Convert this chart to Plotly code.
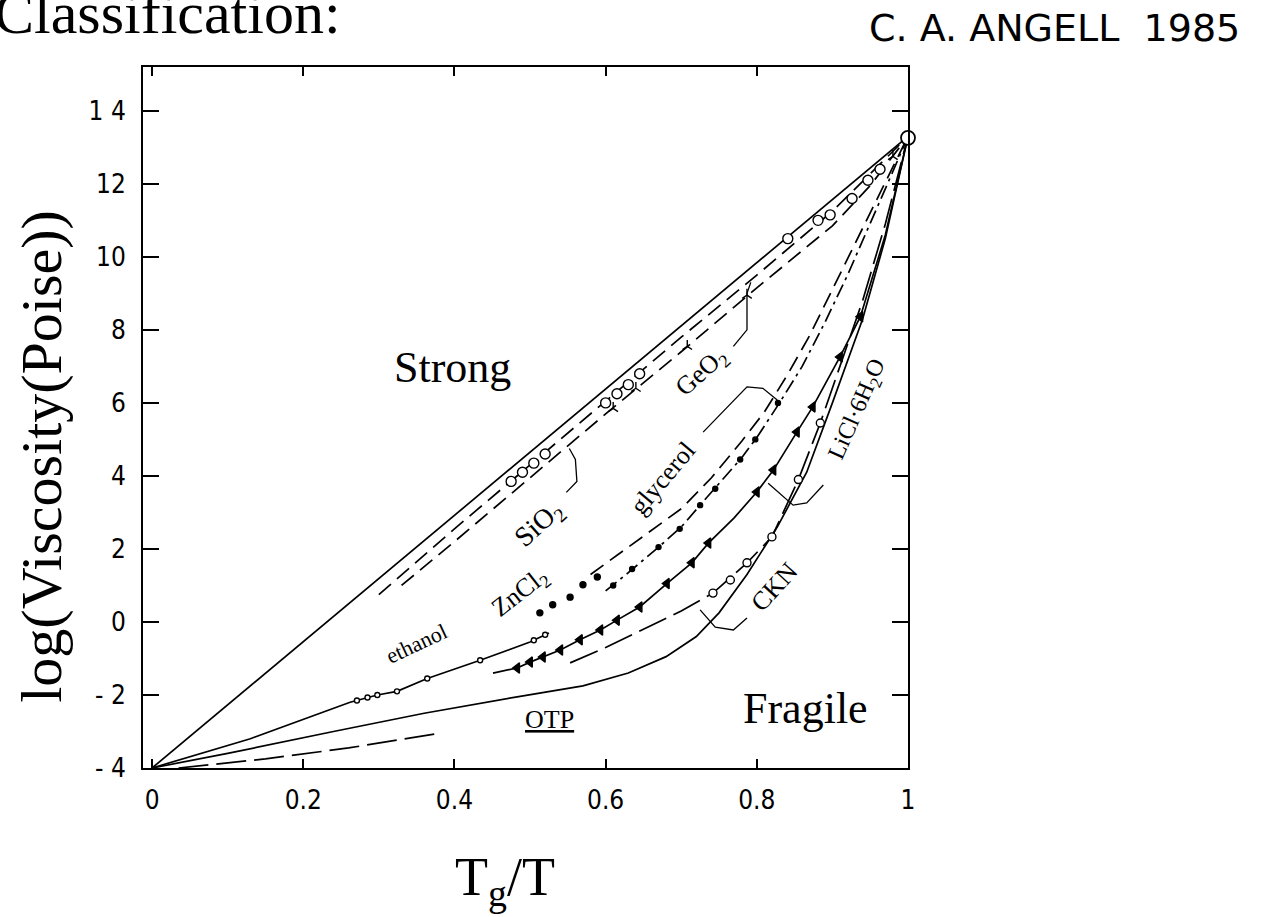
import plotly.graph_objects as go

# ---------------- data ----------------
strong_x = [0.0, 1.0]
strong_y = [-4.0, 13.3]

sio2_x = [0.30, 0.40, 0.50, 0.60, 0.70, 0.80, 0.90, 1.00]
sio2_y = [0.75, 2.55, 4.30, 6.05, 7.80, 9.50, 11.25, 13.3]
sio2_pts_x = [0.475, 0.49, 0.505, 0.52, 0.60, 0.615, 0.63, 0.645, 0.841, 0.881, 0.897, 0.926, 0.947, 0.963]
sio2_pts_y = [3.85, 4.1, 4.35, 4.6, 6.0, 6.25, 6.5, 6.8, 10.5, 11.0, 11.15, 11.6, 12.1, 12.4]

geo2_x = [0.33, 0.40, 0.50, 0.60, 0.70, 0.80, 0.90, 0.95, 1.00]
geo2_y = [1.00, 2.20, 3.95, 5.70, 7.40, 9.15, 10.85, 11.95, 13.3]
geo2_pts_x = [0.61, 0.64, 0.708, 0.787, 0.98]
geo2_pts_y = [5.85, 6.4, 7.55, 8.95, 12.75]

zncl2_dot_x = [0.513, 0.53, 0.553, 0.57, 0.589]
zncl2_dot_y = [0.25, 0.47, 0.68, 1.02, 1.23]
zncl2_x = [0.58, 0.62, 0.66, 0.70, 0.74, 0.78, 0.81, 0.84, 0.87, 0.90, 0.93, 0.96, 1.0]
zncl2_y = [1.3, 1.9, 2.5, 3.1, 3.95, 4.95, 5.75, 6.75, 7.85, 9.1, 10.35, 11.6, 13.3]

glyc_x = [0.60, 0.63, 0.67, 0.70, 0.725, 0.75, 0.78, 0.80, 0.83, 0.86, 0.89, 0.92, 0.95, 0.975, 1.0]
glyc_y = [0.85, 1.35, 2.05, 2.6, 3.2, 3.8, 4.5, 5.05, 6.0, 7.0, 8.2, 9.5, 10.9, 12.1, 13.3]
glyc_pts_x = [0.61, 0.635, 0.67, 0.698, 0.725, 0.745, 0.778, 0.798, 0.828]
glyc_pts_y = [1.0, 1.45, 2.05, 2.55, 3.2, 3.65, 4.45, 5.0, 6.0]

licl_x = [0.451, 0.483, 0.50, 0.517, 0.54, 0.566, 0.593, 0.615, 0.645, 0.681, 0.714, 0.736, 0.77,
          0.80, 0.822, 0.853, 0.874, 0.91, 0.937, 0.97, 1.0]
licl_y = [-1.4, -1.26, -1.1, -0.96, -0.77, -0.49, -0.22, 0.05, 0.41, 1.05, 1.62, 2.16, 2.85,
          3.56, 4.16, 5.2, 5.89, 7.26, 8.36, 10.6, 13.3]
licl_pts_x = [0.483, 0.50, 0.517, 0.54, 0.566, 0.593, 0.615, 0.645, 0.681, 0.714, 0.736,
              0.80, 0.822, 0.853, 0.874, 0.91, 0.937]
licl_pts_y = [-1.26, -1.1, -0.96, -0.77, -0.49, -0.22, 0.05, 0.41, 1.05, 1.62, 2.16,
              3.56, 4.16, 5.2, 5.89, 7.26, 8.36]

ckn_x = [0.553, 0.60, 0.65, 0.70, 0.742, 0.787, 0.82, 0.855, 0.884, 0.91, 0.94, 0.97, 1.0]
ckn_y = [-1.12, -0.7, -0.2, 0.3, 0.79, 1.62, 2.33, 3.9, 5.45, 7.0, 8.8, 10.9, 13.3]
ckn_pts_x = [0.742, 0.765, 0.787, 0.82, 0.855, 0.884]
ckn_pts_y = [0.79, 1.15, 1.62, 2.33, 3.9, 5.45]

otp_x = [0.0, 0.10, 0.24, 0.36, 0.483, 0.57, 0.63, 0.68, 0.72, 0.75, 0.787, 0.827, 0.866, 0.90, 0.94, 0.97, 1.0]
otp_y = [-4.0, -3.6, -3.0, -2.5, -2.05, -1.75, -1.4, -0.95, -0.4, 0.25, 1.3, 2.6, 4.1, 6.0, 8.3, 10.5, 13.3]
otp_low_x = [0.035, 0.15, 0.26, 0.38]
otp_low_y = [-4.0, -3.75, -3.45, -3.05]

eth_x = [0.0, 0.13, 0.262, 0.298, 0.324, 0.364, 0.434, 0.50, 0.525]
eth_y = [-4.0, -3.2, -2.2, -2.0, -1.9, -1.55, -1.05, -0.55, -0.3]
eth_pts_x = [0.271, 0.285, 0.298, 0.324, 0.364, 0.434, 0.505, 0.52]
eth_pts_y = [-2.15, -2.07, -2.0, -1.9, -1.55, -1.05, -0.5, -0.35]

tg_x = [1.0]
tg_y = [13.26]

# label leader brackets
br_sio2_x = [0.548, 0.562, 0.560, 0.552]
br_sio2_y = [3.55, 3.85, 4.45, 4.75]
br_geo2_x = [0.769, 0.787, 0.787, 0.792]
br_geo2_y = [7.55, 8.0, 9.0, 9.3]
br_glyc_x = [0.729, 0.787, 0.808, 0.827]
br_glyc_y = [5.2, 6.44, 6.4, 6.08]
br_licl_x = [0.888, 0.866, 0.848, 0.815]
br_licl_y = [3.75, 3.26, 3.2, 3.8]
br_ckn_x = [0.787, 0.769, 0.745, 0.725]
br_ckn_y = [0.11, -0.22, -0.14, 0.33]

y_ticks = [-4, -2, 0, 2, 4, 6, 8, 10, 12, 14]
y_tick_text = ["- 4", "- 2", "0", "2", "4", "6", "8", "10", "12", "1 4"]
x_ticks = [0, 0.2, 0.4, 0.6, 0.8, 1]
x_tick_text = ["0", "0.2", "0.4", "0.6", "0.8", "1"]

# ---------------- figure ----------------
K = "black"
SERIF = "Liberation Serif, Times New Roman, serif"
NARROW = "Liberation Sans Narrow, DejaVu Sans Condensed, Arial Narrow, sans-serif"

fig = go.Figure()


def line(x, y, dash="solid", w=1.7):
    fig.add_trace(go.Scatter(x=x, y=y, mode="lines", line=dict(color=K, width=w, dash=dash),
                             hoverinfo="skip", showlegend=False))


def pts(x, y, symbol, size, filled=False, lw=1.4):
    fig.add_trace(go.Scatter(x=x, y=y, mode="markers",
                             marker=dict(symbol=symbol, size=size,
                                         color=K if filled else "white",
                                         line=dict(color=K, width=lw)),
                             hoverinfo="skip", showlegend=False, cliponaxis=False))


line(strong_x, strong_y)
line(sio2_x, sio2_y, dash="16px,8px")
line(geo2_x, geo2_y, dash="16px,8px")
line(zncl2_x, zncl2_y, dash="16px,8px")
line(glyc_x, glyc_y, dash="14px,5px,3px,5px")
line(licl_x, licl_y)
line(ckn_x, ckn_y, dash="30px,8px")
line(otp_x, otp_y)
line(otp_low_x, otp_low_y, dash="30px,8px")
line(eth_x, eth_y)

for bx, by in [(br_sio2_x, br_sio2_y), (br_geo2_x, br_geo2_y), (br_glyc_x, br_glyc_y),
               (br_licl_x, br_licl_y), (br_ckn_x, br_ckn_y)]:
    line(bx, by, w=1.3)

pts(sio2_pts_x, sio2_pts_y, "circle", 10)
pts(geo2_pts_x, geo2_pts_y, "y-up", 8, lw=1.4)
pts(zncl2_dot_x, zncl2_dot_y, "circle", 6, filled=True)
pts(glyc_pts_x, glyc_pts_y, "circle", 5, filled=True)
pts(licl_pts_x, licl_pts_y, "triangle-left", 9, filled=True)
pts(ckn_pts_x, ckn_pts_y, "circle", 8)
pts(eth_pts_x, eth_pts_y, "circle", 5)
pts(tg_x, tg_y, "circle", 14, lw=1.8)

labels = [
    ("Strong", 0.398, 6.96, 0, 44),
    ("Fragile", 0.865, -2.36, 0, 44),
    ("ethanol", 0.35, -0.58, -25, 22),
    ("ZnCl<sub>2</sub>", 0.487, 0.8, -38, 26),
    ("SiO<sub>2</sub>", 0.513, 2.66, -42, 28),
    ("glycerol", 0.675, 3.94, -50, 26),
    ("GeO<sub>2</sub>", 0.727, 6.82, -42, 26),
    ("LiCl·6H<sub>2</sub>O", 0.934, 5.8, -66, 24),
    ("CKN", 0.824, 0.96, -48, 26),
]
ann = []
for t, x, y, a, s in labels:
    ann.append(dict(text=t, x=x, y=y, xref="x", yref="y", showarrow=False, textangle=a,
                    font=dict(family=SERIF, size=s, color=K)))
ann.append(dict(text="OTP", x=0.526, y=-2.68, xref="x", yref="y", showarrow=False,
                font=dict(family=SERIF, size=26, color=K, lineposition="under")))

# axis titles and headings
ann.append(dict(text="log(Viscosity(Poise))", xref="paper", yref="paper",
                x=-0.132, y=0.444, xanchor="center", yanchor="middle", textangle=-90,
                showarrow=False, font=dict(family=SERIF, size=58, color=K)))
ann.append(dict(text="T<sub>g</sub>/T", xref="paper", yref="paper",
                x=0.405, y=-0.16, xanchor="left", yanchor="middle",
                showarrow=False, font=dict(family=SERIF, size=54, color=K)))
ann.append(dict(text="Classification:", xref="paper", yref="paper",
                x=-0.197, y=1.077, xanchor="left", yanchor="middle",
                showarrow=False, font=dict(family=SERIF, size=60, color=K)))
ann.append(dict(text="C. A. ANGELL  1985", xref="paper", yref="paper",
                x=(867 - 143) / 765, y=(768 - 28) / 701, xanchor="left", yanchor="middle",
                showarrow=False, font=dict(family="DejaVu Sans", size=38, color=K)))

fig.update_layout(
    width=1261, height=917,
    margin=dict(l=143, r=353, t=67, b=149),
    paper_bgcolor="white", plot_bgcolor="white",
    annotations=ann,
    xaxis=dict(range=[-0.012, 1.0], tickvals=x_ticks, ticktext=x_tick_text,
               ticks="inside", ticklen=9, tickwidth=1.5, tickcolor=K,
               showline=True, linecolor=K, linewidth=2, mirror="ticks",
               showgrid=False, zeroline=False, ticklabelstandoff=8,
               tickfont=dict(family=NARROW, size=26, color=K)),
    yaxis=dict(range=[-4.0, 15.2], tickvals=y_ticks, ticktext=y_tick_text,
               ticks="inside", ticklen=16, tickwidth=1.5, tickcolor=K,
               showline=True, linecolor=K, linewidth=2, mirror="ticks",
               showgrid=False, zeroline=False, ticklabelstandoff=10,
               tickfont=dict(family=NARROW, size=26, color=K)),
)

fig.write_html("out.html")
